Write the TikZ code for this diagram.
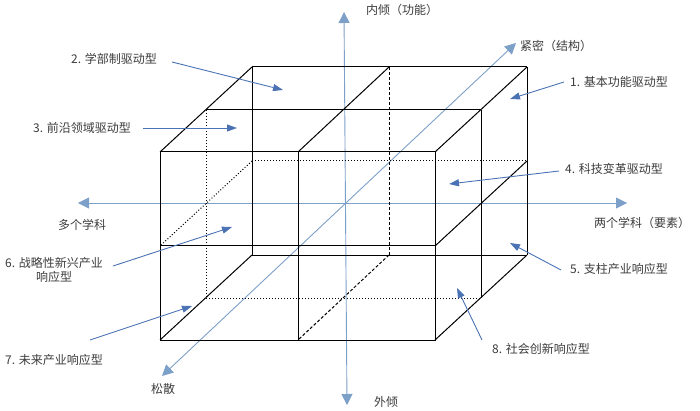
\documentclass[tikz,border=0pt]{standalone}
\usepackage{fontspec}
\newfontfamily\cjk{Noto Sans CJK SC}
\usetikzlibrary{arrows.meta}
\definecolor{axisblue}{RGB}{125,160,200}
\definecolor{pointblue}{RGB}{75,115,180}
\definecolor{labelgray}{RGB}{60,60,60}

\begin{document}
\begin{tikzpicture}[x=1pt,y=-1pt,
  axis/.style={draw=axisblue, line width=0.9pt, >={Triangle[length=11pt,width=11pt]}, <->},
  pointer/.style={draw=pointblue, line width=0.9pt, -{Triangle[length=10pt,width=7pt]}},
  edge/.style={line width=1pt, black},
  hidden/.style={line width=1pt, black, dotted},
  backline/.style={line width=1pt, black, dash pattern=on 3pt off 2pt},
  txt/.style={font=\cjk\fontsize{12}{14}\selectfont, text=labelgray, inner sep=0pt, align=center}]
\useasboundingbox (0,0) rectangle (700,411);

\coordinate (up) at (344,12);
\coordinate (down) at (347,405);
\coordinate (left) at (78,203);
\coordinate (right) at (627,203);
\coordinate (near) at (162,376);
\coordinate (far) at (516,43);
\draw[axis] (up) -- (down);
\draw[axis] (left) -- (right);
\draw[axis] (near) -- (far);

\draw[edge] (160,152) rectangle (435,340);
\draw[edge] (298,152) -- (298,340);
\draw[edge] (160,246) -- (435,246);

\draw[edge] (252,67) -- (527,67);
\draw[edge] (252,67) -- (252,255);
\draw[edge] (527,67) -- (527,255);
\draw[edge] (252,255) -- (527,255);
\draw[backline] (389,67) -- (389,255);
\draw[hidden] (252,161) -- (527,161);

\draw[edge] (252,67) -- (160,152);
\draw[edge] (389,67) -- (298,152);
\draw[edge] (527,67) -- (435,152);
\draw[edge] (527,161) -- (435,246);
\draw[edge] (527,255) -- (435,340);
\draw[edge] (252,255) -- (160,340);
\draw[backline] (389,255) -- (298,340);
\draw[hidden] (252,161) -- (160,246);

\draw[edge] (206,110) -- (481,110);
\draw[edge] (481,110) -- (481,298);
\draw[hidden] (206,110) -- (206,298);
\draw[hidden] (206,298) -- (481,298);

\node[txt] (inner) at (402,10) {内倾（功能）};
\node[txt] (outer) at (386,402) {外倾};
\node[txt] (tight) at (556,46) {紧密（结构）};
\node[txt] (loose) at (163,389) {松散};
\node[txt] (many) at (82,225) {多个学科};
\node[txt] (two) at (642,223) {两个学科（要素）};

\node[txt] (l1) at (619,82) {1. 基本功能驱动型};
\node[txt] (l2) at (114,59) {2. 学部制驱动型};
\node[txt] (l3) at (82,128) {3. 前沿领域驱动型};
\node[txt] (l4) at (614,169) {4. 科技变革驱动型};
\node[txt] (l5) at (619,269) {5. 支柱产业响应型};
\node[txt] (l6) at (54,270) {6. 战略性新兴产业\\响应型};
\node[txt] (l7) at (54,360) {7. 未来产业响应型};
\node[txt] (l8) at (541,349) {8. 社会创新响应型};

\coordinate (t1) at (510,99);
\coordinate (t2) at (283,90);
\coordinate (t3) at (237,128);
\coordinate (t4) at (449,184);
\coordinate (t5) at (510,243);
\coordinate (t6) at (232,227);
\coordinate (t7) at (192,306);
\coordinate (t8) at (457,288);

\draw[pointer] ([shift={(-6,0)}]l1.west) -- (t1);
\draw[pointer] ([shift={(15,3)}]l2.east) -- (t2);
\draw[pointer] ([shift={(12,0)}]l3.east) -- (t3);
\draw[pointer] ([shift={(-6,2)}]l4.west) -- (t4);
\draw[pointer] ([shift={(-9,1)}]l5.west) -- (t5);
\draw[pointer] ([shift={(10,-4)}]l6.east) -- (t6);
\draw[pointer] ([shift={(-13,-20)}]l7.east) -- (t7);
\draw[pointer] ([shift={(-10,-9)}]l8.west) -- (t8);
\end{tikzpicture}
\end{document}
